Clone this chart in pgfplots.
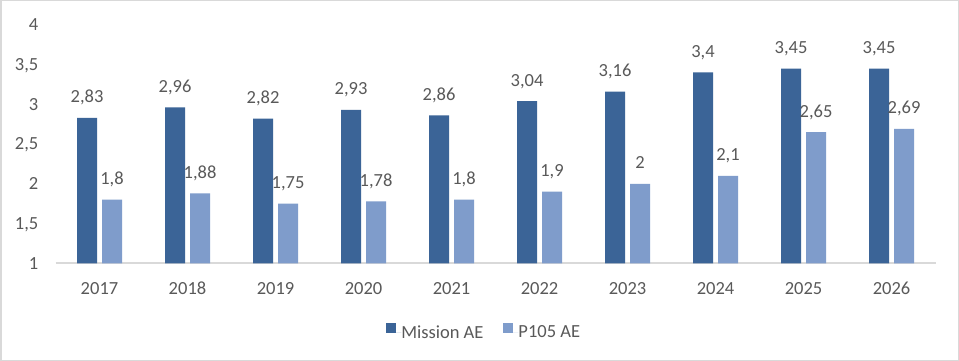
\documentclass[border=0pt]{standalone}
\usepackage{pgfplots}
\pgfplotsset{compat=1.18}
\usepackage{fontspec}
\setmainfont{Carlito}
\definecolor{darkbar}{RGB}{59,100,151}
\definecolor{lightbar}{RGB}{127,156,203}
\definecolor{txt}{RGB}{89,89,89}
\definecolor{frm}{RGB}{217,217,217}
\begin{document}
\begin{tikzpicture}
\useasboundingbox (0,0) rectangle (959bp,361bp);
\fill[white] (0,0) rectangle (959bp,361bp);
\draw[frm, line width=1.5bp] (0.75bp,0.75bp) rectangle (958.25bp,360.25bp);
\begin{axis}[
  at={(55.5bp,97.7bp)}, anchor=south west,
  scale only axis, width=880bp, height=238.5bp,
  ybar=5bp, bar width=20bp,
  xmin=-0.5, xmax=9.5, ymin=1, ymax=4,
  xtick={0,...,9},
  xticklabels={2017,2018,2019,2020,2021,2022,2023,2024,2025,2026},
  ytick={1,1.5,2,2.5,3,3.5,4},
  axis x line*=bottom, axis y line*=left,
  x axis line style={draw=frm, line width=2bp, -},
  y axis line style={draw=none},
  major tick length=0pt,
  font=\fontsize{18.5bp}{22bp}\selectfont,
  /pgf/number format/.cd, use comma, assume math mode=true, 1000 sep={},
  /pgfplots/.cd,
  ticklabel style={text=txt},
  xticklabel style={anchor=base, inner sep=0pt, yshift=-31bp},
  yticklabel style={anchor=base east, inner sep=0pt, xshift=-17bp, yshift=-5.8bp},
  yticklabel={\pgfmathprintnumber{\tick}},
  nodes near coords,
  every node near coord/.append style={text=txt, anchor=base, inner sep=0pt, yshift=15bp, font=\fontsize{18.5bp}{22bp}\selectfont},
  clip=false,
  legend style={at={(0.486,-0.29)}, anchor=center, draw=none, fill=none,
    legend columns=-1, text=txt, font=\fontsize{18.5bp}{22bp}\selectfont,
    /tikz/column 2/.style={column sep=20bp},
    nodes={inner xsep=0pt, inner ysep=2.5bp}},
  legend image code/.code={\fill[#1] (0bp,-1bp) rectangle (10bp,9bp); \path (0bp,0bp) -- (15bp,0bp);},
]
\addplot[fill=darkbar, draw=none] coordinates {(0,2.83)(1,2.96)(2,2.82)(3,2.93)(4,2.86)(5,3.04)(6,3.16)(7,3.4)(8,3.45)(9,3.45)};
\addplot[fill=lightbar, draw=none] coordinates {(0,1.8)(1,1.88)(2,1.75)(3,1.78)(4,1.8)(5,1.9)(6,2)(7,2.1)(8,2.65)(9,2.69)};
\legend{Mission AE, P105 AE}
\end{axis}
\end{tikzpicture}
\end{document}
